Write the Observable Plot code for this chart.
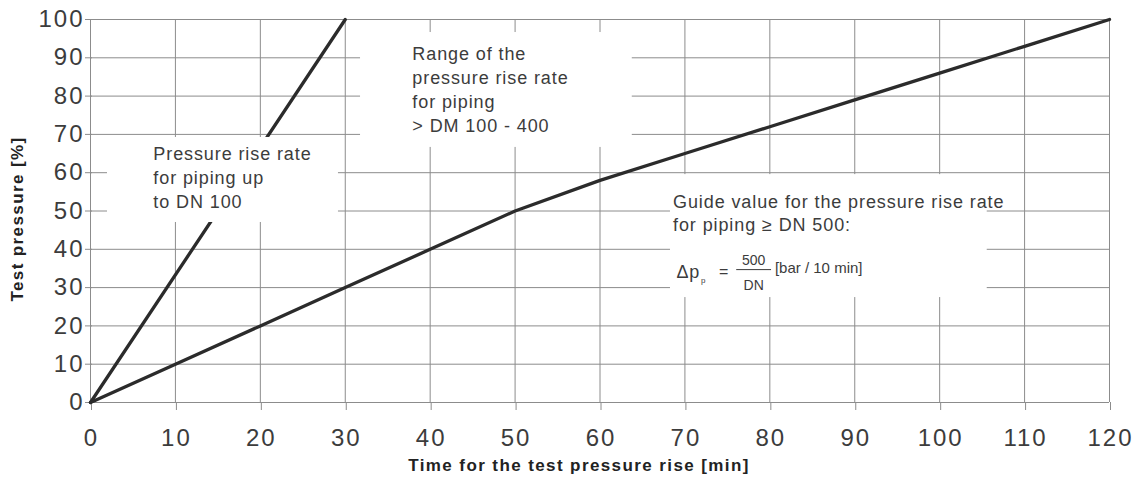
<!DOCTYPE html>
<html><head><meta charset="utf-8">
<script src="https://cdn.jsdelivr.net/npm/d3@7"></script>
<script src="https://cdn.jsdelivr.net/npm/@observablehq/plot@0.6"></script>
<style>
html,body{margin:0;padding:0;background:#fff;}
#chart svg{display:block;}
#chart g[aria-label="x-axis tick label"] text,
#chart g[aria-label="y-axis tick label"] text{letter-spacing:2px;}
</style>
</head><body>
<div id="chart"></div>
<script>
// ---- data ----
const timeMin        = [0, 10, 20, 30, 40, 50, 60, 70, 80, 90, 100, 110, 120];
const pressureGuide  = [0, 10, 20, 30, 40, 50, 58, 65, 72, 79, 86, 93, 100];
const timeSteep      = [0, 30];
const pressureSteep  = [0, 100];
const xTicks = [0, 10, 20, 30, 40, 50, 60, 70, 80, 90, 100, 110, 120];
const yTicks = [0, 10, 20, 30, 40, 50, 60, 70, 80, 90, 100];
const xTitle = "Time for the test pressure rise [min]";
const yTitle = "Test pressure [%]";
const noteSmall = "Pressure rise rate\nfor piping up\nto DN 100";
const noteMid   = "Range of the\npressure rise rate\nfor piping\n> DM 100 - 400";
const noteGuide = "Guide value for the pressure rise rate\nfor piping \u2265 DN 500:";
const formulaLeft = "\u0394p";
const formulaSub  = "p";
const formulaEq   = "=";
const formulaNum  = "500";
const formulaDen  = "DN";
const formulaUnit = "[bar / 10 min]";

const guide = timeMin.map((t, i) => ({t, p: pressureGuide[i]}));
const steep = timeSteep.map((t, i) => ({t, p: pressureSteep[i]}));

const gridColor = "#8c8c8c";
const inkColor = "#2b2b2b";
const textColor = "#3c3c3c";

const boxes = [
  {x1: 2.0, x2: 29.2, y1: 47.0, y2: 69.2},
  {x1: 31.8, x2: 63.8, y1: 66.6, y2: 96.6},
  {x1: 68.3, x2: 105.6, y1: 27.4, y2: 59.5}
];

const chart = Plot.plot({
  width: 1133,
  height: 483,
  marginLeft: 90,
  marginRight: 24,
  marginTop: 19,
  marginBottom: 81,
  style: {fontFamily: "'Liberation Sans', Arial, sans-serif", background: "#fff", color: textColor},
  x: {domain: [0, 120]},
  y: {domain: [0, 100]},
  marks: [
    Plot.gridX(xTicks, {stroke: gridColor, strokeOpacity: 1, strokeWidth: 1}),
    Plot.gridY(yTicks, {stroke: gridColor, strokeOpacity: 1, strokeWidth: 1}),
    Plot.axisX(xTicks, {tickSize: 8, tickPadding: 18, fontSize: 24, stroke: gridColor, fill: textColor, label: null, dx: 1}),
    Plot.axisY(yTicks, {tickSize: 7, tickPadding: 1, fontSize: 24, stroke: gridColor, fill: textColor, label: null, dx: 2}),
    Plot.line(steep, {x: "t", y: "p", stroke: inkColor, strokeWidth: 3.3}),
    Plot.line(guide, {x: "t", y: "p", stroke: inkColor, strokeWidth: 3.3}),
    Plot.rect(boxes, {x1: "x1", x2: "x2", y1: "y1", y2: "y2", fill: "white"}),
    Plot.text([noteSmall], {x: 7.4, y: 67.66, text: d => d, textAnchor: "start", lineAnchor: "top", lineHeight: 24/18, fontSize: 18, fill: textColor}),
    Plot.text([noteMid], {x: 37.9, y: 93.77, text: d => d, textAnchor: "start", lineAnchor: "top", lineHeight: 24/18, fontSize: 18, fill: textColor}),
    Plot.text([noteGuide], {x: 68.6, y: 54.95, text: d => d, textAnchor: "start", lineAnchor: "top", lineHeight: 23/18, fontSize: 18, fill: textColor}),
    Plot.text([formulaLeft], {x: 69.0, y: 34.1, text: d => d, textAnchor: "start", lineAnchor: "middle", fontSize: 18, fill: textColor}),
    Plot.text([formulaSub], {x: 71.9, y: 31.9, text: d => d, textAnchor: "start", lineAnchor: "middle", fontSize: 8, fill: textColor}),
    Plot.text([formulaEq], {x: 74.0, y: 34.0, text: d => d, textAnchor: "start", lineAnchor: "middle", fontSize: 16, fill: textColor}),
    Plot.text([formulaNum], {x: 78.1, y: 37.1, text: d => d, textAnchor: "middle", lineAnchor: "middle", fontSize: 14, fill: textColor}),
    Plot.ruleY([34.7], {x1: 76.1, x2: 80.2, stroke: textColor, strokeWidth: 1}),
    Plot.text([formulaDen], {x: 78.1, y: 30.5, text: d => d, textAnchor: "middle", lineAnchor: "middle", fontSize: 14, fill: textColor}),
    Plot.text([formulaUnit], {x: 80.6, y: 35.0, text: d => d, textAnchor: "start", lineAnchor: "middle", fontSize: 15, fill: textColor}),
    Plot.text([xTitle], {frameAnchor: "bottom", text: d => d, dy: 68, dx: -21, fontSize: 17, fontWeight: "bold", fill: "#222"}),
    Plot.text([yTitle], {frameAnchor: "left", text: d => d, textAnchor: "middle", dx: -73, dy: 8, rotate: -90, fontSize: 17, fontWeight: "bold", fill: "#222"})
  ]
});
// letter spacing for the wide-set lettering of the reference
chart.querySelectorAll('g[aria-label="text"]').forEach(g => {
  const fs = +g.getAttribute("font-size");
  const bold = g.getAttribute("font-weight") === "bold";
  if (bold) g.style.letterSpacing = "1.4px";
  else if (fs === 18) g.style.letterSpacing = "0.9px";
});
document.getElementById("chart").appendChild(chart);
</script>
</body></html>
